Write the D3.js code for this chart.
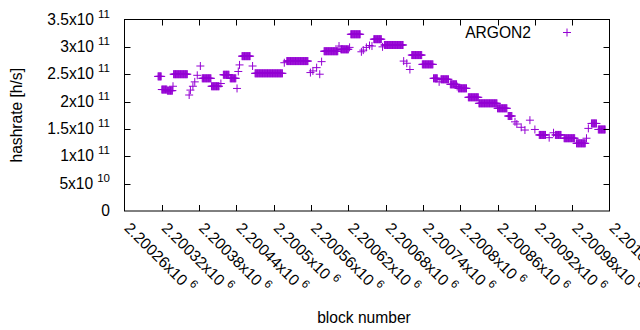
<!DOCTYPE html>
<html>
<head>
<meta charset="utf-8">
<script src="https://cdn.jsdelivr.net/npm/d3@7"></script>
<style>
  body { margin: 0; background: #fff; }
  text { font-family: 'Liberation Sans', Arial, sans-serif; fill: #000; }
</style>
</head>
<body>
<script>
// runs of blocks with the same hashrate (GH/s), single points have start == end
const runStart = [
  2200314, 2200320, 2200329, 2200338, 2200339,
  2200364, 2200366, 2200370, 2200373, 2200377, 2200382,
  2200385, 2200400, 2200415, 2200419, 2200430, 2200441, 2200443, 2200445,
  2200449, 2200466, 2200470, 2200517, 2200521,
  2200559, 2200563, 2200569, 2200574, 2200577,
  2200581, 2200605, 2200608, 2200622, 2200624,
  2200641, 2200644, 2200649, 2200654, 2200658,
  2200661, 2200675, 2200678, 2200709, 2200714, 2200719,
  2200722, 2200739, 2200757, 2200766, 2200769,
  2200784, 2200795, 2200797, 2200813, 2200830, 2200860, 2200877,
  2200888, 2200891, 2200898, 2200904, 2200912, 2200920,
  2200927, 2200943, 2200950, 2200953, 2200967, 2200987,
  2201003, 2201006, 2201011, 2201022
]
const runEnd = [
  2200319, 2200328, 2200337, 2200338, 2200361,
  2200364, 2200366, 2200370, 2200373, 2200377, 2200382,
  2200399, 2200412, 2200415, 2200428, 2200439, 2200441, 2200443, 2200445,
  2200462, 2200466, 2200514, 2200517, 2200555,
  2200559, 2200563, 2200569, 2200574, 2200577,
  2200603, 2200605, 2200620, 2200622, 2200639,
  2200641, 2200644, 2200649, 2200654, 2200658,
  2200673, 2200675, 2200708, 2200709, 2200714, 2200719,
  2200738, 2200756, 2200763, 2200766, 2200781,
  2200794, 2200795, 2200810, 2200829, 2200859, 2200875, 2200883,
  2200888, 2200891, 2200898, 2200904, 2200912, 2200920,
  2200937, 2200943, 2200950, 2200962, 2200984, 2201001,
  2201003, 2201006, 2201019, 2201033
]
const runRate = [
  246, 222, 220, 228, 250,
  212, 221, 228, 236, 248, 265,
  242.5, 228, 233, 249, 242.5, 224, 255, 267,
  283, 265, 251.6, 271, 274,
  253, 256, 262, 250, 273,
  292, 301.5, 295.5, 299, 323,
  291, 294, 299, 302.5, 301.5,
  314, 300, 303.4, 274, 270, 258.6,
  285, 268, 242.5, 236, 240.7,
  231.5, 227.5, 224.2, 207.8, 196.8, 187.7, 173.6,
  163, 159, 153, 148, 166, 149,
  139, 134, 143, 139, 133, 123.7,
  133, 151, 160, 149
]

const xTicks = [2200260, 2200320, 2200380, 2200440, 2200500, 2200560, 2200620,
  2200680, 2200740, 2200800, 2200860, 2200920, 2200980, 2201040]
const xTickLabels = ['2.20026', '2.20032', '2.20038', '2.20044', '2.2005', '2.20056', '2.20062',
  '2.20068', '2.20074', '2.2008', '2.20086', '2.20092', '2.20098', '2.20104']
const xTickExp = '6'

const yTicks = [0, 5e10, 1e11, 1.5e11, 2e11, 2.5e11, 3e11, 3.5e11]
const yTickLabels = ['0', '5', '1', '1.5', '2', '2.5', '3', '3.5']
const yTickExp = ['', '10', '11', '11', '11', '11', '11', '11']

const seriesName = 'ARGON2'
const color = '#9400d3'

const width = 640, height = 330
const plotLeft = 124.5, plotRight = 609.5, plotTop = 19.5, plotBottom = 211
const fontSize = '15.6px', supSize = '11.5px'

let x = d3.scaleLinear().domain([2200260, 2201040]).range([plotLeft, plotRight])
let y = d3.scaleLinear().domain([0, 3.5e11]).range([plotBottom, plotTop])

let svg = d3.select('body').append('svg')
  .attr('width', width)
  .attr('height', height)

// one point per block inside each run
let points = []
runStart.forEach((s, i) => {
  d3.range(s, runEnd[i] + 1).forEach(b => points.push({ block: b, rate: runRate[i] * 1e9 }))
})

const plus = (cx, cy, r) => `M${cx - r},${cy}H${cx + r}M${cx},${cy - r}V${cy + r}`

svg.append('g')
  .selectAll('path')
  .data(points)
  .enter()
  .append('path')
  .attr('d', d => plus(x(d.block), y(d.rate), 4))
  .attr('stroke', color)
  .attr('stroke-width', 1)
  .attr('fill', 'none')

// ticks, mirrored on all four sides and pointing inward
let ticks = svg.append('g').attr('stroke', '#000').attr('stroke-width', 1)
yTicks.slice(1, -1).forEach(t => {
  let ty = Math.round(y(t)) + 0.5
  ticks.append('line').attr('x1', plotLeft).attr('x2', plotLeft + 6).attr('y1', ty).attr('y2', ty)
  ticks.append('line').attr('x1', plotRight).attr('x2', plotRight - 6).attr('y1', ty).attr('y2', ty)
})
xTicks.slice(1, -1).forEach(t => {
  let tx = Math.round(x(t)) + 0.5
  ticks.append('line').attr('x1', tx).attr('x2', tx).attr('y1', plotBottom).attr('y2', plotBottom - 6)
  ticks.append('line').attr('x1', tx).attr('x2', tx).attr('y1', plotTop).attr('y2', plotTop + 6)
})

svg.append('rect')
  .attr('x', plotLeft)
  .attr('y', plotTop)
  .attr('width', plotRight - plotLeft)
  .attr('height', plotBottom - plotTop)
  .attr('fill', 'none')
  .attr('stroke', '#000')

// y tick labels with superscript exponent
yTicks.forEach((t, i) => {
  let txt = svg.append('text')
    .attr('x', 110)
    .attr('y', y(t) + 5)
    .attr('text-anchor', 'end')
    .style('font-size', fontSize)
  if (yTickExp[i] === '') {
    txt.text(yTickLabels[i])
  } else {
    txt.append('tspan').text(yTickLabels[i] + 'x10')
    txt.append('tspan').attr('dx', 4).attr('dy', -7).style('font-size', supSize).text(yTickExp[i])
  }
})

// x tick labels rotated down-right
xTicks.forEach((t, i) => {
  let txt = svg.append('text')
    .attr('transform', `translate(${x(t) - 1},${plotBottom + 18}) rotate(45)`)
    .style('font-size', fontSize)
  txt.append('tspan').text(xTickLabels[i] + 'x10')
  txt.append('tspan').attr('dx', 4).attr('dy', -7).style('font-size', supSize).text(xTickExp)
})

svg.append('text')
  .attr('x', 364)
  .attr('y', 323)
  .attr('text-anchor', 'middle')
  .style('font-size', fontSize)
  .text('block number')

svg.append('text')
  .attr('transform', `translate(22,${(plotTop + plotBottom) / 2}) rotate(-90)`)
  .attr('text-anchor', 'middle')
  .style('font-size', fontSize)
  .text('hashrate [h/s]')

// legend
svg.append('text')
  .attr('x', 531)
  .attr('y', 37.5)
  .attr('text-anchor', 'end')
  .style('font-size', fontSize)
  .text(seriesName)
svg.append('path')
  .attr('d', plus(567, 32.5, 4))
  .attr('stroke', color)
  .attr('fill', 'none')
</script>
</body>
</html>
